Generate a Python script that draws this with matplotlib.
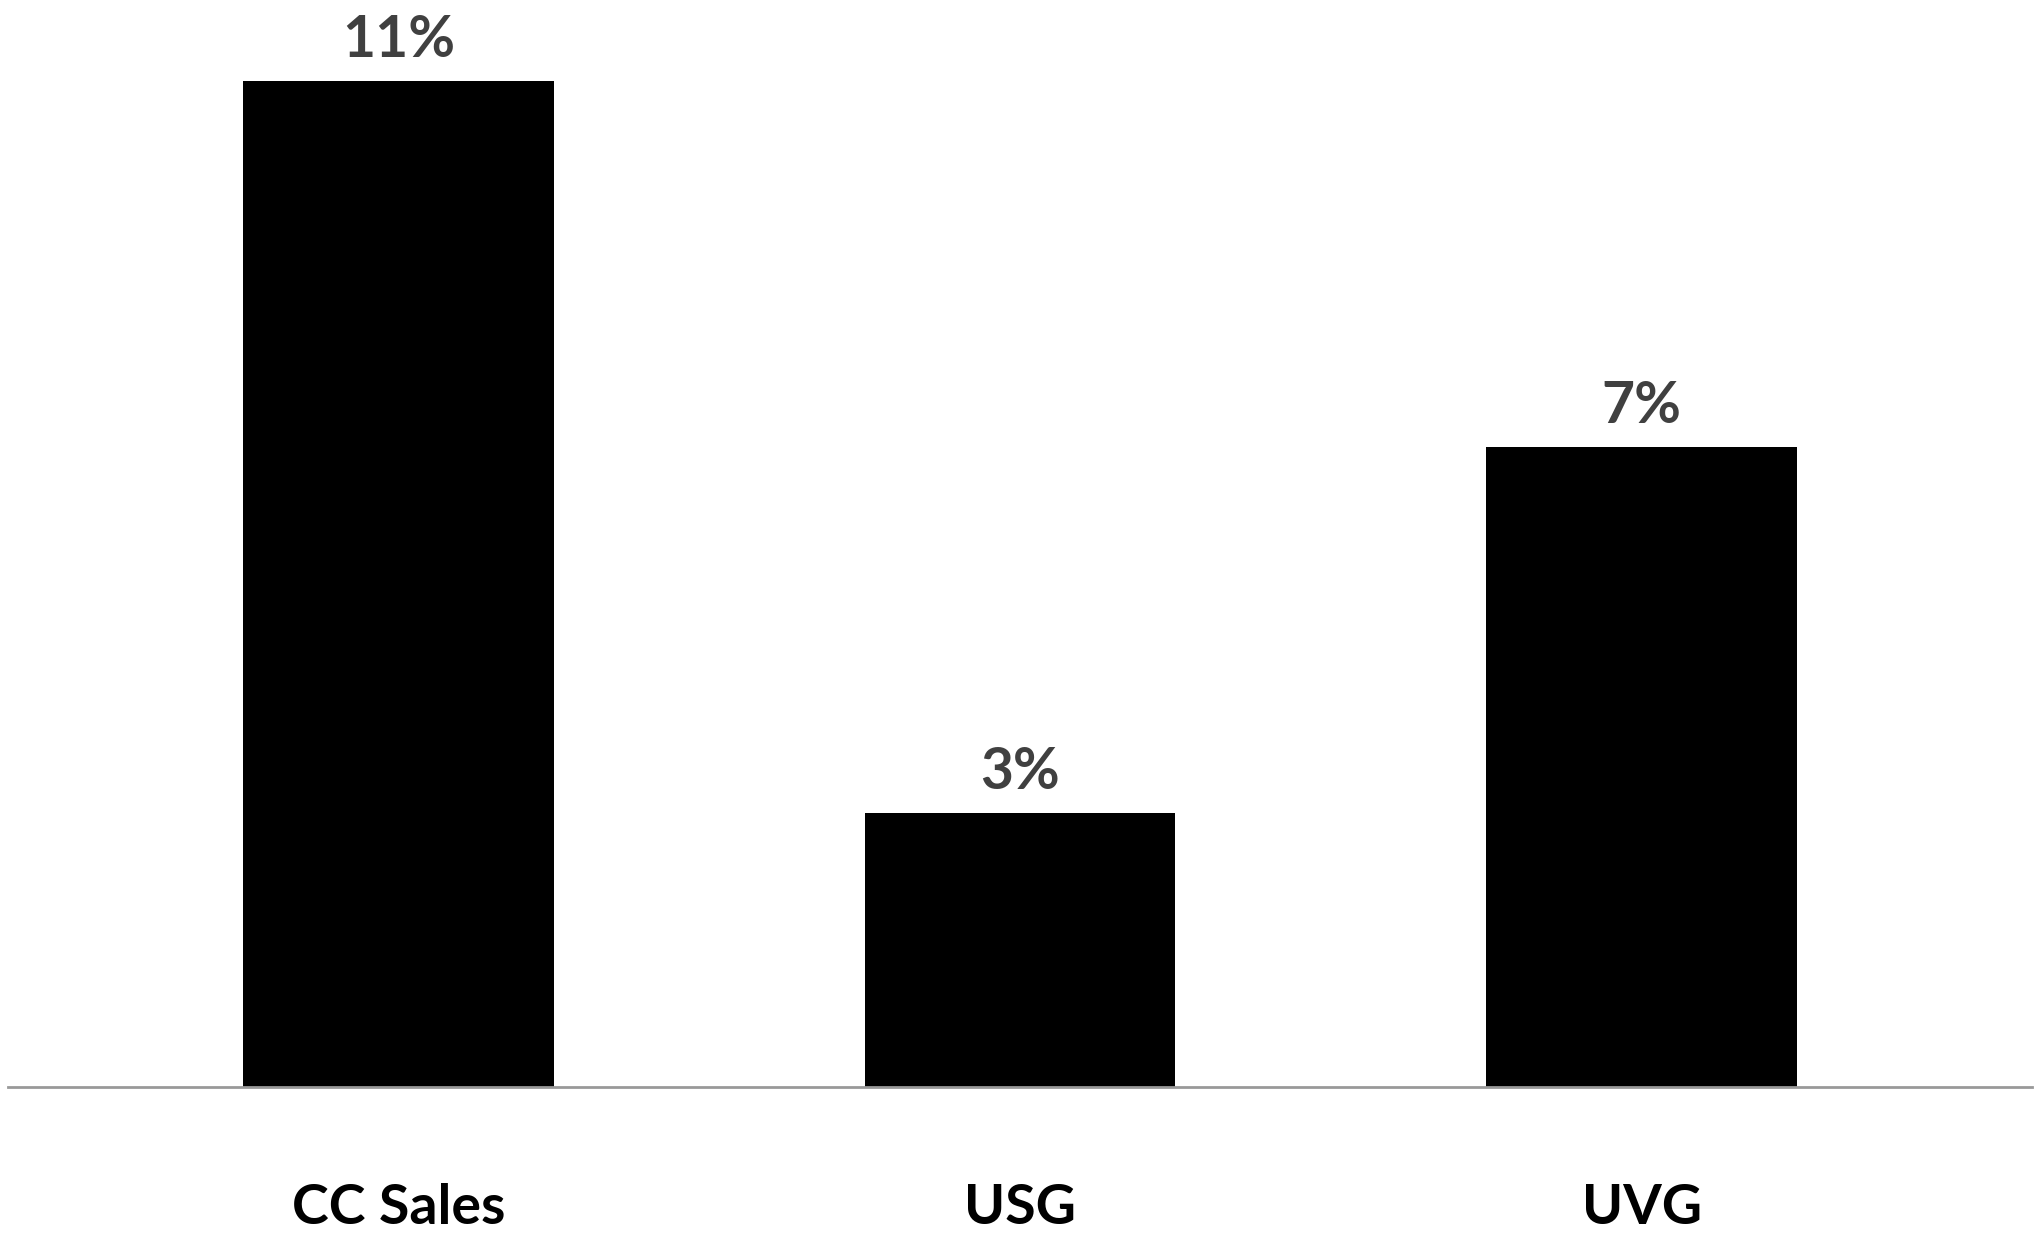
import matplotlib
matplotlib.use("Agg")
import matplotlib.pyplot as plt

categories = ["CC Sales", "USG", "UVG"]
values = [11, 3, 7]
value_labels = ["11%", "3%", "7%"]

plt.rcParams['font.family'] = ['Lato', 'DejaVu Sans']

fig = plt.figure(figsize=(20.34, 12.40), dpi=100)
ax = fig.add_axes([8 / 2034, 1 - 1087 / 1240, 2024 / 2034, 1087 / 1240])

x = range(len(categories))
bars = ax.bar(x, values, width=0.5, color="black", zorder=2)

for xi, v, lab in zip(x, values, value_labels):
    ax.annotate(lab, (xi, v), xytext=(0, 24), textcoords="offset pixels",
                ha="center", va="baseline", fontsize=41, fontweight="bold",
                color="#404040")

ax.set_xlim(-0.628, 2.628)
ax.set_ylim(0, 11.89)
ax.set_xticks(list(x))
ax.set_xticklabels(categories, fontsize=40, fontweight="bold", color="black")
ax.tick_params(axis="x", length=0, pad=69)
ax.set_yticks([])
for side in ["top", "right", "left"]:
    ax.spines[side].set_visible(False)
ax.spines["bottom"].set_color("#999999")
ax.spines["bottom"].set_linewidth(2)
ax.spines["bottom"].set_zorder(3)

fig.savefig("out.png", dpi=100)
